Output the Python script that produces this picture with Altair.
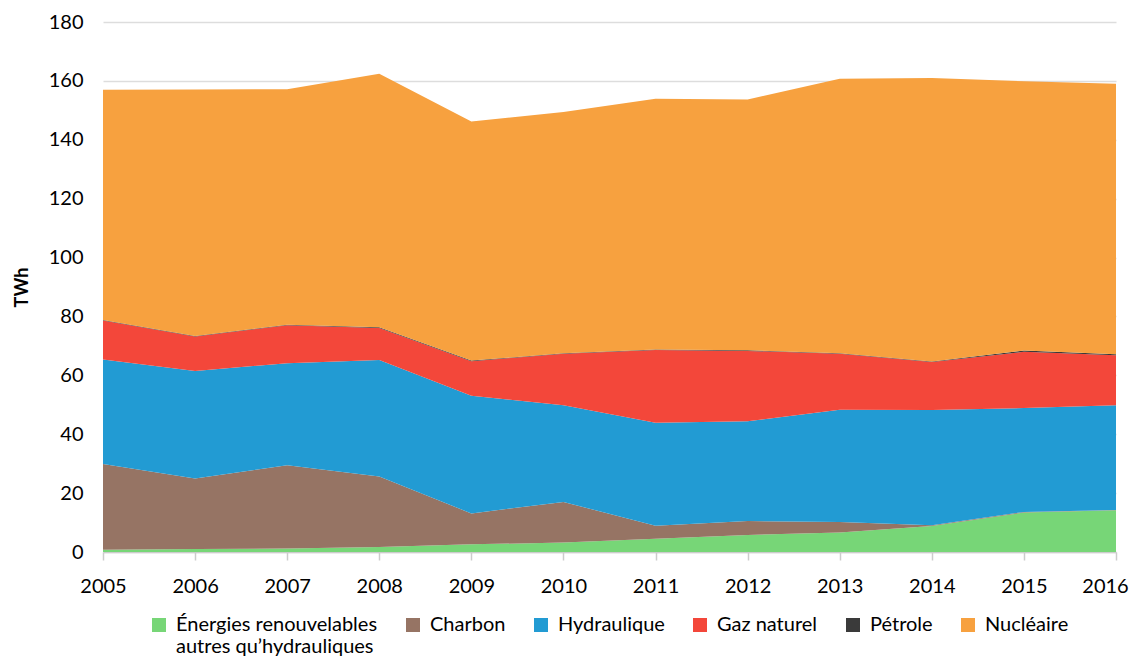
import altair as alt
import pandas as pd

years = [2005, 2006, 2007, 2008, 2009, 2010, 2011, 2012, 2013, 2014, 2015, 2016]
renouvelables = [0.8, 1.0, 1.2, 1.7, 2.6, 3.2, 4.5, 5.8, 6.6, 8.8, 13.4, 14.2]
charbon = [29.1, 24.0, 28.3, 23.9, 10.5, 13.8, 4.4, 4.7, 3.6, 0.3, 0.2, 0.1]
hydraulique = [35.5, 36.5, 34.6, 39.6, 40.0, 32.8, 35.0, 33.9, 38.1, 39.1, 35.3, 35.5]
gaz = [13.2, 11.7, 12.9, 10.9, 11.7, 17.5, 24.7, 23.9, 19.0, 16.3, 19.1, 17.0]
petrole = [0.2, 0.2, 0.2, 0.2, 0.2, 0.2, 0.2, 0.2, 0.2, 0.2, 0.4, 0.4]
nucleaire = [78.2, 83.7, 80.0, 86.1, 81.2, 81.9, 85.1, 85.2, 93.2, 96.3, 91.5, 91.8]

series_names = [
    "Énergies renouvelables autres qu’hydrauliques",
    "Charbon",
    "Hydraulique",
    "Gaz naturel",
    "Pétrole",
    "Nucléaire",
]
series_values = [renouvelables, charbon, hydraulique, gaz, petrole, nucleaire]
colors = ["#77D677", "#967464", "#229BD3", "#F3473A", "#3A3A3A", "#F7A13F"]

rows = []
for idx, (name, vals) in enumerate(zip(series_names, series_values)):
    for y, v in zip(years, vals):
        rows.append({"year": y, "source": name, "value": v, "order": idx})
df = pd.DataFrame(rows)

FONT = "Lato"

label_expr = (
    "datum.label == 'Énergies renouvelables autres qu’hydrauliques' ? "
    "['Énergies renouvelables', 'autres qu’hydrauliques'] : [datum.label, ' ']"
)

chart = (
    alt.Chart(df)
    .mark_area(opacity=1)
    .encode(
        x=alt.X(
            "year:Q",
            scale=alt.Scale(domain=[2005, 2016], nice=False, zero=False),
            axis=alt.Axis(
                title=None,
                values=years,
                format="d",
                grid=False,
                domainColor="#cccccc",
                domainWidth=1.5,
                tickColor="#cccccc",
                tickWidth=1.5,
                tickSize=8,
                labelPadding=16,
                labelFlush=False,
                labelOverlap=False,
                labelOffset={"condition": {"test": "datum.value == 2016", "value": -11}, "value": 0},
                labelFontSize=20,
                labelFont=FONT,
                labelColor="#000000",
            ),
        ),
        y=alt.Y(
            "value:Q",
            stack="zero",
            scale=alt.Scale(domain=[0, 180], nice=False),
            axis=alt.Axis(
                title="TWh",
                values=[0, 20, 40, 60, 80, 100, 120, 140, 160, 180],
                domain=False,
                ticks=False,
                gridColor="#dddddd",
                gridWidth=1.5,
                labelPadding=20,
                labelFontSize=20,
                labelFont=FONT,
                labelColor="#000000",
                titleFont=FONT,
                titleFontSize=18,
                titleFontWeight="bold",
                titleColor="#000000",
                titlePadding=17,
            ),
        ),
        color=alt.Color(
            "source:N",
            scale=alt.Scale(domain=series_names, range=colors),
            legend=alt.Legend(
                title=None,
                orient="none",
                direction="horizontal",
                legendX=46,
                legendY=593,
                symbolType="square",
                symbolSize=196,
                symbolStrokeWidth=0,
                symbolOpacity=1,
                labelFont=FONT,
                labelFontSize=20,
                labelColor="#000000",
                labelOffset=7,
                columnPadding=25,
                labelLimit=400,
                labelExpr=label_expr,
                padding=0,
            ),
        ),
        order=alt.Order("order:Q", sort="ascending"),
    )
    .properties(
        width=1013,
        height=530,
        autosize=alt.AutoSizeParams(type="none"),
        padding={"left": 95, "top": 14, "right": 14, "bottom": 106},
    )
    .configure_view(stroke=None)
)

chart.save("out.html", embed_options={"renderer": "svg", "actions": False})
